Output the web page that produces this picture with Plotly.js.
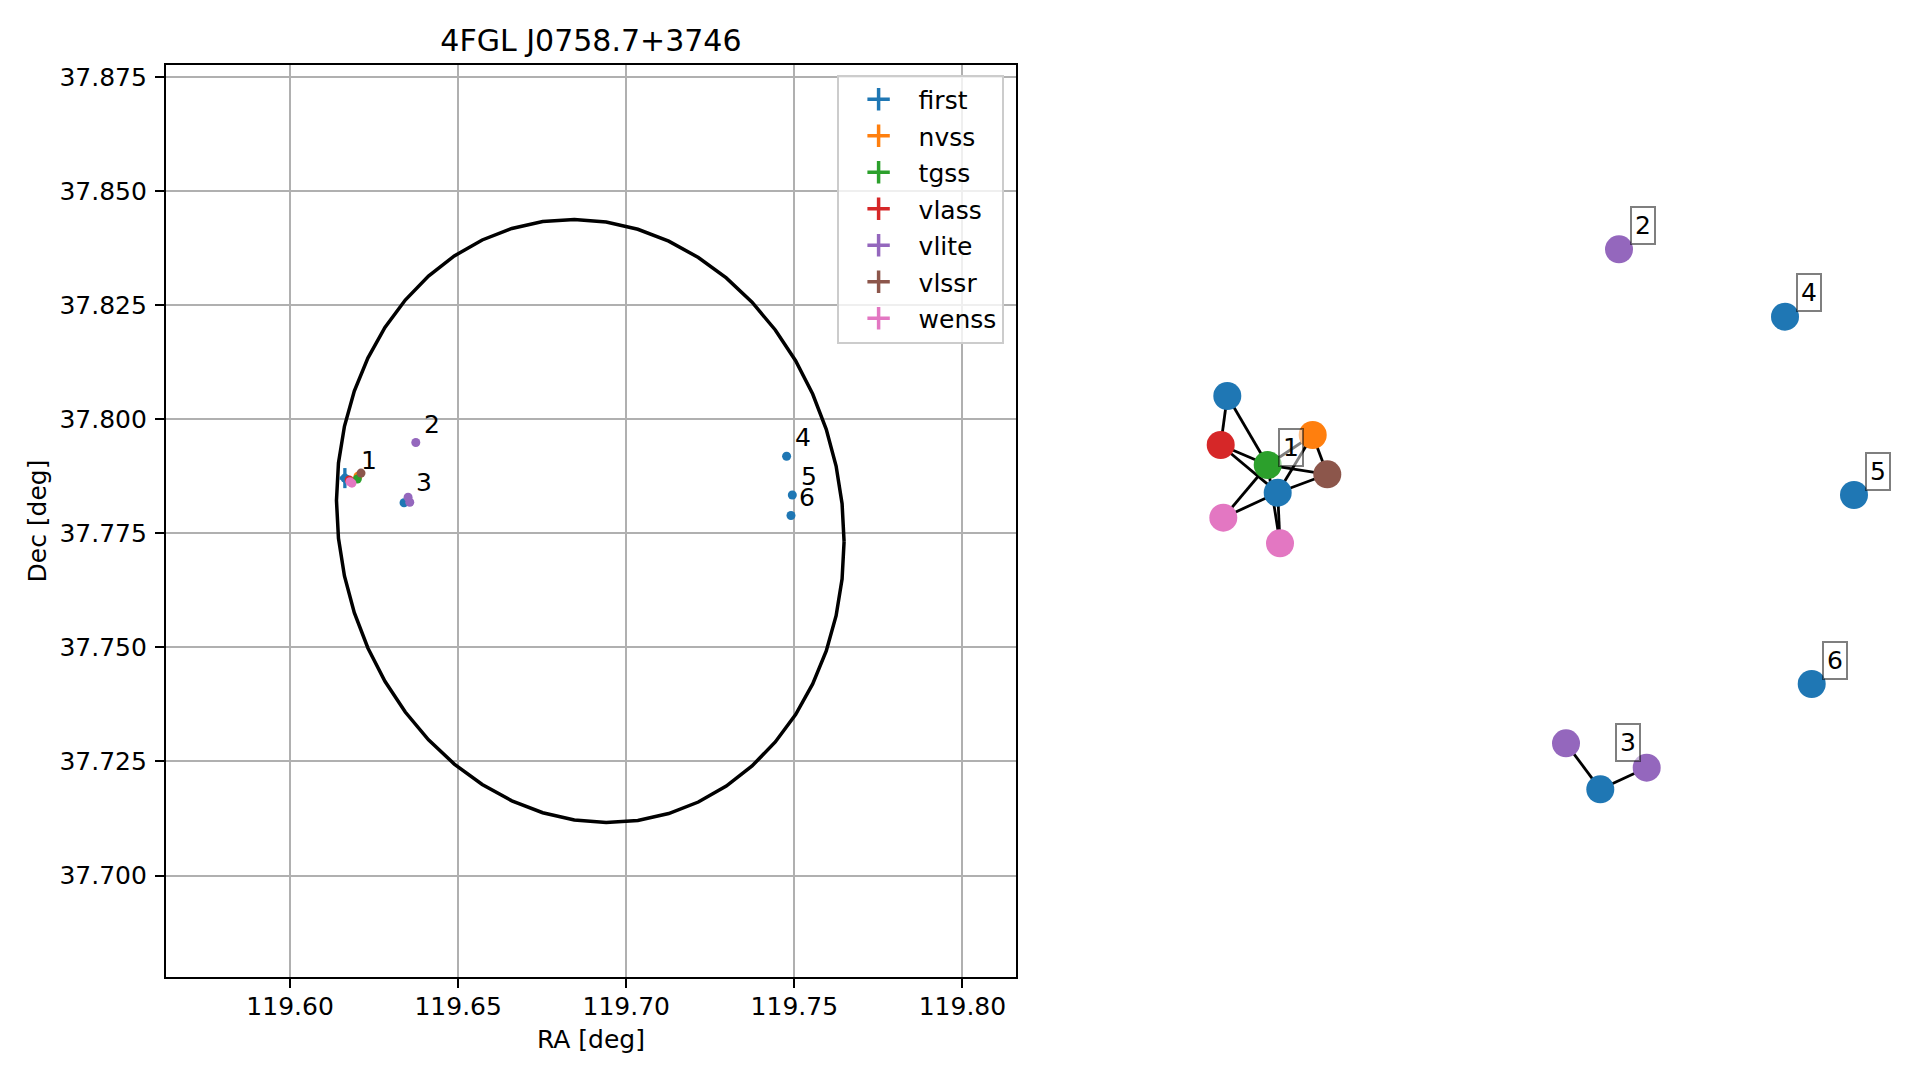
<!DOCTYPE html>
<html>
<head>
<meta charset="utf-8">
<script src="https://cdn.plot.ly/plotly-3.0.1.min.js"></script>
<style>html,body{margin:0;padding:0;background:#fff;}#chart{width:1919px;height:1080px;}</style>
</head>
<body>
<div id="chart"></div>
<script>
// ---------------- data ----------------
const title = '4FGL J0758.7+3746';
const catalogs = ['first', 'nvss', 'tgss', 'vlass', 'vlite', 'vlssr', 'wenss'];
const colors = ['#1f77b4', '#ff7f0e', '#2ca02c', '#d62728', '#9467bd', '#8c564b', '#e377c2'];

// radio sources (RA, Dec in deg), their errors and the match group they belong to
const first_ra = [119.6163, 119.6169, 119.6339, 119.7477, 119.7494, 119.7490];
const first_dec = [37.7871, 37.7868, 37.7817, 37.7919, 37.7834, 37.7789];
const first_ra_err = [0.0016, 0.0003, 0.0002, 0.0002, 0.0002, 0.0002];
const first_dec_err = [0.0022, 0.0004, 0.0003, 0.0008, 0.0003, 0.0003];
const first_match = [1, 1, 3, 4, 5, 6];

const nvss_ra = [119.6202], nvss_dec = [37.7875], nvss_ra_err = [0.0003], nvss_dec_err = [0.0003], nvss_match = [1];
const tgss_ra = [119.6200], tgss_dec = [37.7869], tgss_ra_err = [0.0002], tgss_dec_err = [0.0002], tgss_match = [1];
const vlass_ra = [119.6176], vlass_dec = [37.7867], vlass_ra_err = [0.0002], vlass_dec_err = [0.0002], vlass_match = [1];
const vlite_ra = [119.6374, 119.6351, 119.6356];
const vlite_dec = [37.7949, 37.7829, 37.7818];
const vlite_ra_err = [0.0002, 0.0002, 0.0002];
const vlite_dec_err = [0.0002, 0.0003, 0.0002];
const vlite_match = [2, 3, 3];
const vlssr_ra = [119.6211], vlssr_dec = [37.7882], vlssr_ra_err = [0.0002], vlssr_dec_err = [0.0002], vlssr_match = [1];
const wenss_ra = [119.6184, 119.6178], wenss_dec = [37.7860, 37.7863];
const wenss_ra_err = [0.0002, 0.0002], wenss_dec_err = [0.0002, 0.0002], wenss_match = [1, 1];

// 4FGL error ellipse: centre and extents (deg)
const ell_center = [119.6893, 37.7777];
const ell_ra_halfwidth = 0.0755;
const ell_dec_halfwidth = 0.0661;
const ell_cov_ra_dec = -0.00034;
const ell_vertices = 50;

// axis limits and ticks
const ra_range = [119.5630, 119.8160];
const dec_range = [37.6777, 37.8777];
const ra_ticks = [119.60, 119.65, 119.70, 119.75, 119.80];
const dec_ticks = [37.700, 37.725, 37.750, 37.775, 37.800, 37.825, 37.850, 37.875];

// match graph (network layout positions, node catalog and match id)
const graph_catalog = ['first', 'vlass', 'tgss', 'nvss', 'vlssr', 'first', 'wenss', 'wenss',
                       'vlite', 'vlite', 'first', 'vlite', 'first', 'first', 'first'];
const graph_match = [1, 1, 1, 1, 1, 1, 1, 1, 2, 3, 3, 3, 4, 5, 6];
const graph_x = [1227.3, 1220.7, 1267.7, 1312.7, 1327.3, 1277.7, 1223.3, 1280.0,
                 1619.0, 1566.0, 1600.3, 1646.7, 1785.0, 1854.0, 1811.7];
const graph_y = [396.0, 445.0, 465.0, 435.0, 474.3, 492.7, 517.7, 543.3,
                 249.3, 743.3, 789.3, 767.7, 316.7, 495.0, 684.0];
const graph_edges = [[0, 1], [0, 2], [1, 2], [1, 5], [2, 3], [2, 4], [3, 4], [3, 5], [4, 5],
                     [2, 6], [5, 6], [2, 7], [5, 7], [9, 10], [10, 11]];

// ---------------- build ----------------
const src = {
  first: [first_ra, first_dec, first_ra_err, first_dec_err, first_match],
  nvss: [nvss_ra, nvss_dec, nvss_ra_err, nvss_dec_err, nvss_match],
  tgss: [tgss_ra, tgss_dec, tgss_ra_err, tgss_dec_err, tgss_match],
  vlass: [vlass_ra, vlass_dec, vlass_ra_err, vlass_dec_err, vlass_match],
  vlite: [vlite_ra, vlite_dec, vlite_ra_err, vlite_dec_err, vlite_match],
  vlssr: [vlssr_ra, vlssr_dec, vlssr_ra_err, vlssr_dec_err, vlssr_match],
  wenss: [wenss_ra, wenss_dec, wenss_ra_err, wenss_dec_err, wenss_match]
};

const traces = [];
// ellipse
const ex = [], ey = [];
const sy = Math.sqrt(ell_dec_halfwidth * ell_dec_halfwidth - Math.pow(ell_cov_ra_dec / ell_ra_halfwidth, 2));
for (let i = 0; i <= ell_vertices; i++) {
  const t = 2 * Math.PI * i / ell_vertices;
  ex.push(ell_center[0] + ell_ra_halfwidth * Math.cos(t));
  ey.push(ell_center[1] + (ell_cov_ra_dec / ell_ra_halfwidth) * Math.cos(t) + sy * Math.sin(t));
}
traces.push({x: ex, y: ey, mode: 'lines', line: {color: 'black', width: 3.5}, showlegend: false,
  hoverinfo: 'skip', xaxis: 'x', yaxis: 'y'});

// source points with error bars
catalogs.forEach((c, k) => {
  const [ra, dec, rae, dece] = src[c];
  traces.push({
    x: ra, y: dec, mode: 'markers', name: c, showlegend: false,
    marker: {color: colors[k], size: 9},
    error_x: {type: 'data', array: rae, visible: true, color: colors[k], thickness: 3.3, width: 0},
    error_y: {type: 'data', array: dece, visible: true, color: colors[k], thickness: 3.3, width: 0},
    xaxis: 'x', yaxis: 'y'
  });
});
// legend entries (errorbar style cross)
catalogs.forEach((c, k) => {
  traces.push({
    x: [null], y: [null], mode: 'markers', name: c, legendgroup: c,
    marker: {color: colors[k], size: 22, symbol: 'cross-thin', line: {color: colors[k], width: 3.5}},
    xaxis: 'x', yaxis: 'y'
  });
});

// group labels on the sky plot (at mean position of each match)
const annotations = [];
const matches = [1, 2, 3, 4, 5, 6];
matches.forEach(m => {
  let sx = 0, sdec = 0, n = 0;
  catalogs.forEach(c => {
    const [ra, dec, , , mt] = src[c];
    mt.forEach((v, i) => { if (v === m) { sx += ra[i]; sdec += dec[i]; n++; } });
  });
  annotations.push({x: sx / n, y: sdec / n, xref: 'x', yref: 'y', text: String(m), showarrow: false,
    xanchor: 'left', yanchor: 'bottom', xshift: 7.5, yshift: 3, borderpad: 0, font: {size: 25, color: 'black'}});
});

// graph edges
const gex = [], gey = [];
graph_edges.forEach(([a, b]) => { gex.push(graph_x[a], graph_x[b], null); gey.push(graph_y[a], graph_y[b], null); });
traces.push({x: gex, y: gey, mode: 'lines', line: {color: 'black', width: 2.8}, showlegend: false,
  hoverinfo: 'skip', xaxis: 'x2', yaxis: 'y2'});
// graph nodes
traces.push({x: graph_x, y: graph_y, mode: 'markers', showlegend: false,
  marker: {size: 28, color: graph_catalog.map(c => colors[catalogs.indexOf(c)]), line: {width: 0}},
  text: graph_catalog, xaxis: 'x2', yaxis: 'y2'});
// graph labels
matches.forEach(m => {
  let sx = 0, sy2 = 0, n = 0;
  graph_match.forEach((v, i) => { if (v === m) { sx += graph_x[i]; sy2 += graph_y[i]; n++; } });
  annotations.push({x: sx / n, y: sy2 / n, xref: 'x2', yref: 'y2', text: String(m), showarrow: false,
    xanchor: 'center', yanchor: 'middle', xshift: 23.5, yshift: 24,
    bgcolor: 'rgba(255,255,255,0.5)', bordercolor: 'rgba(0,0,0,0.5)', borderwidth: 2, borderpad: 3,
    font: {size: 25, color: 'black'}});
});

const W = 1919, H = 1080;
const axL = 165.7, axR = 1016.2, axT = 64.7, axB = 977.3;
const layout = {
  width: W, height: H,
  margin: {l: 0, r: 0, t: 0, b: 0},
  paper_bgcolor: 'white', plot_bgcolor: 'white',
  font: {family: 'DejaVu Sans', size: 25, color: 'black'},
  title: {text: title, font: {size: 30, color: 'black'}, x: (axL + axR) / 2 / W, xanchor: 'center',
    xref: 'paper', yref: 'paper', y: 1 - 40 / H, yanchor: 'middle'},
  xaxis: {domain: [axL / W, axR / W], range: ra_range, anchor: 'y',
    tickmode: 'array', tickvals: ra_ticks, ticktext: ra_ticks.map(v => v.toFixed(2)),
    ticks: 'outside', ticklen: 8.75, tickwidth: 2, tickcolor: 'black',
    showline: true, linewidth: 2, linecolor: 'black', mirror: true,
    showgrid: true, gridcolor: '#b0b0b0', gridwidth: 2, zeroline: false,
    tickfont: {size: 25}, ticklabelstandoff: -3,
    title: {text: 'RA [deg]', font: {size: 25}, standoff: 10}, automargin: false},
  yaxis: {domain: [1 - axB / H, 1 - axT / H], range: dec_range, anchor: 'x',
    tickmode: 'array', tickvals: dec_ticks, ticktext: dec_ticks.map(v => v.toFixed(3)),
    ticks: 'outside', ticklen: 8.75, tickwidth: 2, tickcolor: 'black',
    showline: true, linewidth: 2, linecolor: 'black', mirror: true,
    showgrid: true, gridcolor: '#b0b0b0', gridwidth: 2, zeroline: false,
    tickfont: {size: 25}, ticklabelstandoff: 3,
    title: {text: 'Dec [deg]', font: {size: 25}, standoff: 6}, automargin: false},
  xaxis2: {domain: [1050 / W, 1], range: [1050, 1919], visible: false, anchor: 'y2', fixedrange: true},
  yaxis2: {domain: [0, 1], range: [1080, 0], visible: false, anchor: 'x2', fixedrange: true},
  legend: {x: 1003.6 / W, xanchor: 'right', y: 1 - 74.5 / H, yanchor: 'top',
    bgcolor: 'rgba(255,255,255,0.8)', bordercolor: '#cccccc', borderwidth: 2,
    font: {size: 25, color: 'black'}, itemwidth: 70, tracegroupgap: 1},
  annotations: annotations,
  showlegend: true
};

Plotly.newPlot('chart', traces, layout, {displayModeBar: false, staticPlot: true});
</script>
</body>
</html>
